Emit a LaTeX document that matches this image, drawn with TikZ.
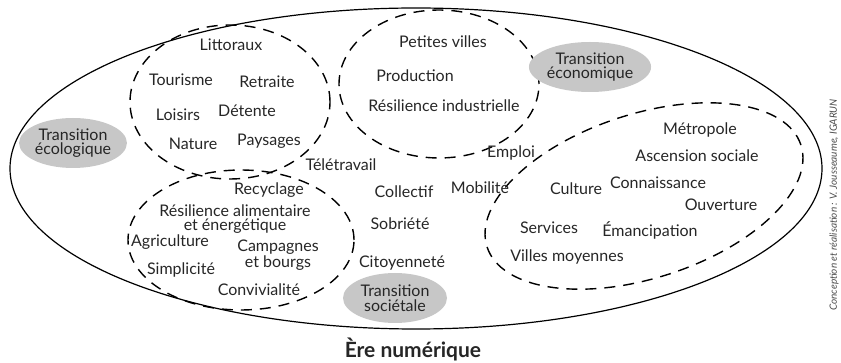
\documentclass[tikz,border=0pt]{standalone}
\usepackage{fontspec}
\setmainfont{Lato}
\usetikzlibrary{shapes.geometric,positioning}

\begin{document}
\begin{tikzpicture}[x=1pt,y=-1pt,
  every node/.style={font=\fontsize{16}{15}\selectfont, text=black!85},
  zone/.style={draw, ellipse, dash pattern=on 11pt off 8pt, line width=1.4pt, inner sep=0pt},
  transition/.style={ellipse, fill=black!22, align=center, inner sep=0pt,
    minimum width=104pt, minimum height=50pt, font=\fontsize{16}{14.5}\selectfont},
  word/.style={inner sep=0pt, align=center, font=\fontsize{16}{14.5}\selectfont}]
\useasboundingbox (0,0) rectangle (841,363);

% outer frame and zones
\node (ere) [draw, ellipse, line width=1.2pt, minimum width=812pt, minimum height=321pt, inner sep=0pt] at (416,168.5) {};
\node (ecozone) [zone, minimum width=200pt, minimum height=154pt] at (230,102) {};
\node (econzone) [zone, minimum width=200pt, minimum height=148pt] at (439,84) {};
\node (soczone) [zone, minimum width=226pt, minimum height=140pt] at (241,240) {};
\node (numzone) [zone, minimum width=330pt, minimum height=164pt, rotate=18] at (644,196) {};

% transitions
\node (teco) [transition] at (73,143) {Transition\\écologique};
\node (tecon) [transition] at (590,67) {Transition\\économique};
\node (tsoc) [transition] at (395,298) {Transition\\sociétale};

% words
\begin{scope}[every node/.append style={word}]
\node (littoraux) at (231,45) {Littoraux};
\node (tourisme) at (181,80) {Tourisme};
\node (retraite) at (267,82) {Retraite};
\node (loisirs) at (178,115) {Loisirs};
\node (detente) at (247,111) {Détente};
\node (nature) at (193,144) {Nature};
\node (paysages) at (269,141) {Paysages};
\node (teletravail) at (341,165) {Télétravail};
\node (petites) at (443,42) {Petites villes};
\node (production) at (415,76) {Production};
\node (resind) at (444,106) {Résilience industrielle};
\node (emploi) at (511,153) {Emploi};
\node (metropole) at (700,130) {Métropole};
\node (ascension) at (697,156) {Ascension sociale};
\node (culture) at (576,189) {Culture};
\node (connaissance) at (658,183) {Connaissance};
\node (ouverture) at (721,205) {Ouverture};
\node (mobilite) at (480,188) {Mobilité};
\node (collectif) at (404,192) {Collectif};
\node (sobriete) at (400,224) {Sobriété};
\node (citoyennete) at (402,263) {Citoyenneté};
\node (services) at (549,228) {Services};
\node (emancipation) at (650,230) {Émancipation};
\node (villes) at (567,257) {Villes moyennes};
\node (recyclage) at (269,190) {Recyclage};
\node (resalim) at (235,219) {Résilience alimentaire\\et énergétique};
\node (agriculture) at (170,242) {Agriculture};
\node (campagnes) at (278,255) {Campagnes\\et bourgs};
\node (simplicite) at (181,270) {Simplicité};
\node (convivialite) at (259,290) {Convivialité};
\end{scope}

\node (ere label) [inner sep=0pt, font=\fontsize{21}{21}\selectfont\bfseries] at (413,349) {Ère numérique};
\node (credit) [rotate=90, inner sep=0pt, text=black!70, font=\fontsize{10}{10}\selectfont\itshape] at (834,205) {Conception et réalisation : V. Jousseaume, IGARUN};
\end{tikzpicture}
\end{document}
